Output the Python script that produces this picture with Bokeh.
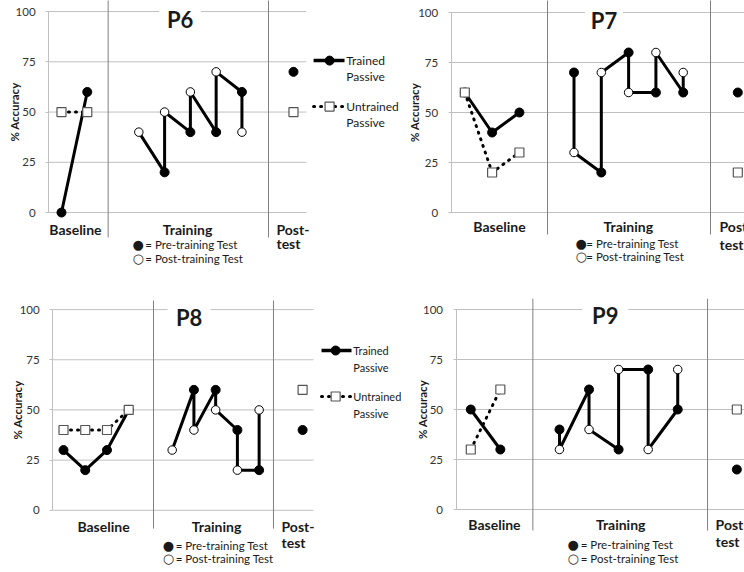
import math
from bokeh.plotting import figure
from bokeh.layouts import row, column
from bokeh.models import Range1d, FixedTicker
from bokeh.core.properties import value
from bokeh.embed import file_html
from bokeh.resources import INLINE

# ---------------- data ----------------
y_ticks = [0, 25, 50, 75, 100]
phase_labels = ["Baseline", "Training", "Post-", "test"]
legend_labels = ["Trained", "Passive", "Untrained", "Passive"]

p6_base_trained = [0, 60]
p6_base_untrained = [50, 50]
p6_pre = [None, 20, 40, 40, 60]
p6_post = [40, 50, 60, 70, 40]
p6_posttest_trained = [70]
p6_posttest_untrained = [50]

p7_base_trained = [60, 40, 50]
p7_base_untrained = [60, 20, 30]
p7_pre = [70, 20, 80, 60, 60]
p7_post = [30, 70, 60, 80, 70]
p7_posttest_trained = [60]
p7_posttest_untrained = [20]

p8_base_trained = [30, 20, 30, 50]
p8_base_untrained = [40, 40, 40, 50]
p8_pre = [None, 60, 60, 40, 20]
p8_post = [30, 40, 50, 20, 50]
p8_posttest_trained = [40]
p8_posttest_untrained = [60]

p9_base_trained = [50, 30]
p9_base_untrained = [30, 60]
p9_pre = [40, 60, 30, 70, 50]
p9_post = [30, 40, 70, 30, 70]
p9_posttest_trained = [20]
p9_posttest_untrained = [50]

key_symbols = ["\u25cf", "\u25cb"]
key_std = ["= Pre-training Test", "= Post-training Test"]
key_p7 = ["= Pre-training Test", "= Post-training Test"]

# ---------------- layout / style ----------------
FONT = "Lato"
TXT = "#1a1a1a"
GRID = "#c0c0c0"
DIV = "#808080"

L6 = dict(w=401, h=284, xr=(-2.366, 13.19), yr=(-35.8, 105.5),
          div=[1.81, 8.03], div_y=(-12.4, 110), title=(4.60, 96.0), title_w=42,
          base_x=0.54, train_x=4.89, post_x=8.34, key_x=2.75, key_gap=0.50,
          lab_y=-8.3, test_y=-15.6, key_y=(-16.0, -23.0), ylab_sd=-9,
          legend=dict(x0=9.78, x1=10.98, xm=10.40, xt=11.05, fs="12px",
                      ys=[75.6, 67.7, 52.7, 44.8]))
L7 = dict(w=343, h=284, xr=(-2.319, 10.245), yr=(-36.0, 106.0),
          div=[3.03, 9.0], div_y=(-11.0, 110), title=(5.10, 96.0), title_w=38,
          base_x=1.27, train_x=5.99, post_x=9.33, key_x=4.05, key_gap=0.40,
          lab_y=-7.1, test_y=-16.1, key_y=(-15.6, -22.1), ylab_sd=-6,
          legend=None)
L8 = dict(w=401, h=288, xr=(-2.899, 15.55), yr=(-31.0, 112.5),
          div=[4.14, 9.66], div_y=(-9.1, 104.5), title=(5.78, 96.2), title_w=43,
          base_x=1.84, train_x=7.04, post_x=10.03, key_x=4.56, key_gap=0.60,
          lab_y=-8.0, test_y=-16.1, key_y=(-17.6, -24.1), ylab_sd=-8,
          legend=dict(x0=11.87, x1=13.25, xm=12.52, xt=13.33, fs="11px",
                      ys=[79.6, 71.1, 56.7, 48.2]))
L9 = dict(w=343, h=288, xr=(-2.344, 9.259), yr=(-31.5, 112.5),
          div=[2.10, 8.01], div_y=(-10.5, 105.4), title=(4.55, 97.0), title_w=46,
          base_x=0.80, train_x=5.07, post_x=8.28, key_x=3.27, key_gap=0.45,
          lab_y=-7.5, test_y=-16.0, key_y=(-17.5, -24.4), ylab_sd=-9,
          legend=None)


def make_panel(name, base_tr, base_un, pre, post, pt_tr, pt_un, key, L):
    nb = len(base_tr)
    bx = list(range(nb))
    tx = [nb + 1 + i for i in range(len(post))]
    px = nb + 1 + len(post) + 1

    p = figure(width=L["w"], height=L["h"], title=None,
               x_range=Range1d(*L["xr"]), y_range=Range1d(*L["yr"]),
               output_backend="svg", toolbar_location=None,
               x_axis_location=None,
               min_border_left=0, min_border_right=0,
               min_border_top=0, min_border_bottom=0)
    p.outline_line_color = None
    p.grid.visible = False
    p.background_fill_color = "white"
    p.border_fill_color = "white"

    ax = p.yaxis[0]
    ax.fixed_location = -0.5
    ax.ticker = FixedTicker(ticks=y_ticks)
    ax.bounds = (0, 100)
    ax.axis_line_color = GRID
    ax.major_tick_line_color = GRID
    ax.major_tick_out = 3
    ax.major_tick_in = 0
    ax.minor_tick_line_color = None
    ax.major_label_standoff = 10
    ax.major_label_text_font = FONT
    ax.major_label_text_font_size = "11.5px"
    ax.major_label_text_color = "#333333"
    ax.axis_label = "% Accuracy"
    ax.axis_label_text_font = FONT
    ax.axis_label_text_font_style = "bold"
    ax.axis_label_text_font_size = "11.5px"
    ax.axis_label_text_color = TXT
    ax.axis_label_standoff = L["ylab_sd"]

    # gridlines (limited to the chart area)
    p.segment(x0=[-0.5] * len(y_ticks), y0=y_ticks,
              x1=[px + 0.5] * len(y_ticks), y1=y_ticks,
              line_color=GRID, line_width=1)
    # phase dividers
    p.segment(x0=L["div"], y0=[L["div_y"][0]] * 2, x1=L["div"], y1=[L["div_y"][1]] * 2,
              line_color=DIV, line_width=1)

    # title with white backing
    tx_, ty_ = L["title"]
    p.rect(x=[tx_], y=[ty_], width=L["title_w"], height=26,
           width_units="screen", height_units="screen",
           fill_color="white", line_color=None)
    p.text(x=[tx_], y=[ty_], text=[name], text_align="center", text_baseline="middle",
           text_font=value(FONT), text_font_style="bold", text_font_size="22px",
           text_color=TXT)

    # baseline lines
    p.line(bx, base_tr, line_color="black", line_width=3)
    p.line(bx, base_un, line_color="black", line_width=3, line_dash="1 6",
           line_cap="round")

    # training path: pre -> post in each session, post -> next pre
    path_x, path_y = [], []
    for i in range(len(post)):
        if pre[i] is not None:
            path_x.append(tx[i]); path_y.append(pre[i])
        path_x.append(tx[i]); path_y.append(post[i])
    p.line(path_x, path_y, line_color="black", line_width=3)

    # markers
    fx = [tx[i] for i in range(len(pre)) if pre[i] is not None]
    fy = [pre[i] for i in range(len(pre)) if pre[i] is not None]
    p.scatter(bx + fx + [px], base_tr + fy + pt_tr, marker="circle", size=9,
              fill_color="black", line_color="black")
    p.scatter(tx, post, marker="circle", size=8.5, fill_color="white",
              line_color="black", line_width=1)
    p.scatter(bx + [px], base_un + pt_un, marker="square", size=9,
              fill_color="white", line_color="#555555", line_width=1.2)

    # phase labels
    p.text(x=[L["base_x"], L["train_x"]], y=[L["lab_y"]] * 2, text=phase_labels[:2],
           text_align="center", text_baseline="middle", text_font=value(FONT),
           text_font_style="bold", text_font_size="14px", text_color=TXT)
    p.text(x=[L["post_x"]] * 2, y=[L["lab_y"], L["test_y"]], text=phase_labels[2:],
           text_align="left", text_baseline="middle", text_font=value(FONT),
           text_font_style="bold", text_font_size="14px", text_color=TXT)
    # key for the filled / open circles
    p.text(x=[L["key_x"]] * 2, y=list(L["key_y"]), text=key_symbols,
           text_align="left", text_baseline="middle", text_font=value("DejaVu Sans"),
           text_font_size="13px", text_color=TXT)
    p.text(x=[L["key_x"] + L["key_gap"]] * 2, y=list(L["key_y"]), text=key,
           text_align="left", text_baseline="middle", text_font=value(FONT),
           text_font_size="11.5px", text_color=TXT)

    # series legend (left panels)
    lg = L["legend"]
    if lg is not None:
        ys = lg["ys"]
        p.line([lg["x0"], lg["x1"]], [ys[0], ys[0]], line_color="black", line_width=3.5)
        p.scatter([lg["xm"]], [ys[0]], marker="circle", size=9,
                  fill_color="black", line_color="black")
        p.line([lg["x0"], lg["x1"]], [ys[2], ys[2]], line_color="black", line_width=3,
               line_dash="1 6", line_cap="round")
        p.scatter([lg["xm"]], [ys[2]], marker="square", size=9,
                  fill_color="white", line_color="#555555", line_width=1.2)
        p.text(x=[lg["xt"]] * 4, y=ys, text=legend_labels, text_align="left",
               text_baseline="middle", text_font=value(FONT),
               text_font_size=lg["fs"], text_color=TXT)
    return p


p6 = make_panel("P6", p6_base_trained, p6_base_untrained, p6_pre, p6_post,
                p6_posttest_trained, p6_posttest_untrained, key_std, L6)
p7 = make_panel("P7", p7_base_trained, p7_base_untrained, p7_pre, p7_post,
                p7_posttest_trained, p7_posttest_untrained, key_p7, L7)
p8 = make_panel("P8", p8_base_trained, p8_base_untrained, p8_pre, p8_post,
                p8_posttest_trained, p8_posttest_untrained, key_std, L8)
p9 = make_panel("P9", p9_base_trained, p9_base_untrained, p9_pre, p9_post,
                p9_posttest_trained, p9_posttest_untrained, key_std, L9)

layout = column(row(p6, p7, spacing=0), row(p8, p9, spacing=0), spacing=0)

with open("out.html", "w") as f:
    f.write(file_html(layout, INLINE))
